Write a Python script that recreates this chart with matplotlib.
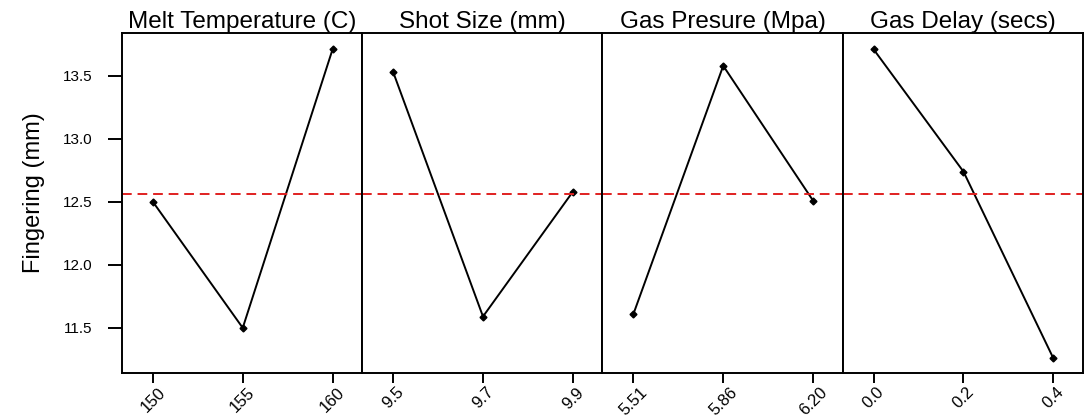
import matplotlib.pyplot as plt

plt.rcParams['font.family'] = ['Liberation Sans', 'DejaVu Sans']

titles = ["Melt Temperature (C)", "Shot Size (mm)", "Gas Presure (Mpa)", "Gas Delay (secs)"]
levels = [
    ["150", "155", "160"],
    ["9.5", "9.7", "9.9"],
    ["5.51", "5.86", "6.20"],
    ["0.0", "0.2", "0.4"],
]
means = [
    [12.50, 11.50, 13.71],
    [13.53, 11.59, 12.58],
    [11.61, 13.58, 12.51],
    [13.71, 12.74, 11.26],
]
grand_mean = 12.565

fig, axes = plt.subplots(1, 4, figsize=(10.84, 4.18), dpi=100, sharey=True)
plt.subplots_adjust(left=0.1125, right=0.999, top=0.921, bottom=0.108, wspace=0)

for i, ax in enumerate(axes):
    x = range(len(levels[i]))
    ax.plot(x, means[i], color="black", linewidth=1.4, marker="D", markersize=3.5)
    ax.axhline(grand_mean, color="#e02020", linestyle=(0, (5, 3)), linewidth=1.4)
    ax.set_xlim(-0.345, 2.33)
    ax.set_xticks(list(x))
    ax.set_xticklabels(levels[i], rotation=45, ha="center", fontsize=12)
    ax.set_title(titles[i], fontsize=17.5, pad=1)
    for s in ax.spines.values():
        s.set_linewidth(1.4)
    ax.tick_params(axis="x", direction="out", length=7.5, width=1.4, pad=1)

axes[0].set_ylim(11.143, 13.84)
axes[0].set_yticks([11.5, 12.0, 12.5, 13.0, 13.5])
axes[0].tick_params(axis="y", direction="out", length=10, width=1.4,
                    labelsize=11, pad=11)
for ax in axes[1:]:
    ax.tick_params(axis="y", left=False, labelleft=False)

axes[0].set_ylabel("Fingering (mm)", fontsize=17)
axes[0].yaxis.set_label_coords(-0.32, 0.53)

fig.savefig("out.png", dpi=100)
plt.close(fig)
